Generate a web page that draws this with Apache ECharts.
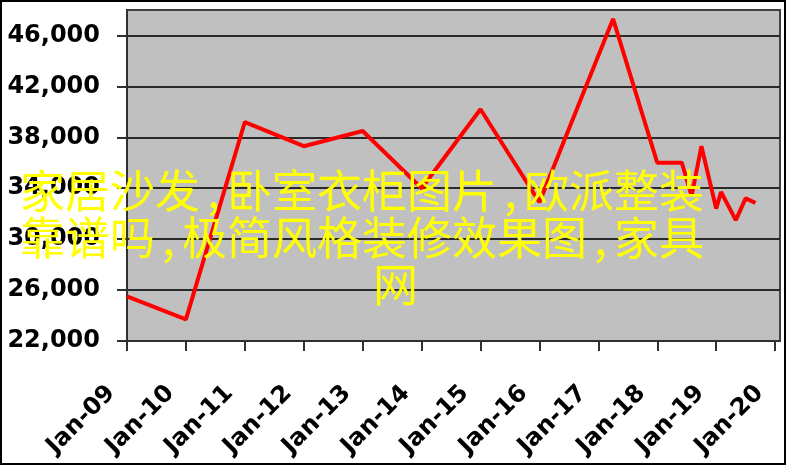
<!DOCTYPE html>
<html>
<head>
<meta charset="utf-8">
<script src="https://cdn.jsdelivr.net/npm/echarts@6/dist/echarts.min.js"></script>
<style>
html,body{margin:0;padding:0;background:#fff;}
#chart{width:788px;height:467px;}
</style>
</head>
<body>
<div id="chart"></div>
<script>
// ---- data ----
var dates = ['2009-01','2010-01','2011-01','2012-01','2013-01','2014-01','2015-01','2016-01',
             '2017-04','2018-01','2018-06','2018-08','2018-10','2019-01','2019-02','2019-05','2019-07','2019-09'];
var values = [25500,23700,39200,37300,38500,34000,40200,32900,
              47300,36000,36000,33400,37300,32400,33700,31500,33200,32850];
var xTickLabels = ['Jan-09','Jan-10','Jan-11','Jan-12','Jan-13','Jan-14','Jan-15','Jan-16','Jan-17','Jan-18','Jan-19','Jan-20'];
var yTickValues = [22000,26000,30000,34000,38000,42000,46000];
var overlayLines = ['家居沙发{c|,}卧室衣柜图片{c|,}欧派整装', '靠谱吗{c|,}极简风格装修效果图{c|,}家具', '网'];

// months since Jan-2009
function monthIndex(s){ var p = s.split('-'); return (parseInt(p[0],10)-2009)*12 + (parseInt(p[1],10)-1); }
var seriesData = dates.map(function(d,i){ return [monthIndex(d), values[i]]; });
var xTickValues = xTickLabels.map(function(_,i){ return i*12; });
function fmtThousands(v){ return String(v).replace(/\B(?=(\d{3})+(?!\d))/g, ','); }

var chart = echarts.init(document.getElementById('chart'), null, {renderer:'canvas'});
var richComma = { c: { width: 27, align: 'center', fontSize: 45, fontFamily: 'Noto Sans CJK SC', fill: '#FFFF00' } };
chart.setOption({
  animation: false,
  backgroundColor: '#ffffff',
  grid: {
    left: 127, right: 8, top: 10, bottom: 126,
    show: true, backgroundColor: '#C0C0C0', borderColor: '#404040', borderWidth: 2
  },
  xAxis: {
    type: 'value', min: 0, max: 133, interval: 12,
    axisLine: { show: true, onZero: false, lineStyle: { color: '#303030', width: 2 } },
    axisTick: { show: true, length: 10, customValues: xTickValues, lineStyle: { color: '#303030', width: 2 } },
    splitLine: { show: false },
    axisLabel: {
      customValues: xTickValues,
      rotate: 45, margin: 33, padding: [0, 22, 0, 0],
      fontFamily: 'DejaVu Sans', fontWeight: 'bold', fontSize: 24, color: '#000',
      formatter: function(v){ return xTickLabels[Math.round(v/12)]; }
    }
  },
  yAxis: {
    type: 'value', min: 22000, max: 48000, interval: 4000,
    axisLine: { show: true, onZero: false, lineStyle: { color: '#303030', width: 2 } },
    axisTick: { show: true, length: 10, customValues: yTickValues, lineStyle: { color: '#303030', width: 2 } },
    splitLine: { show: true, lineStyle: { color: '#2a2a2a', width: 2 } },
    axisLabel: {
      customValues: yTickValues,
      margin: 27,
      fontFamily: 'DejaVu Sans', fontWeight: 'bold', fontSize: 24, color: '#000',
      formatter: function(v){ return fmtThousands(v); }
    }
  },
  series: [{
    type: 'line', data: seriesData, showSymbol: false, symbol: 'none',
    lineStyle: { color: '#FF0000', width: 4 }, z: 5
  }],
  graphic: [
    { type: 'rect', shape: { x: 1, y: 1, width: 784, height: 463 }, style: { fill: 'none', stroke: '#000', lineWidth: 2 }, z: 100, silent: true },
    { type: 'text', x: 20, y: 191, z: 200, style: { text: overlayLines[0], rich: richComma, fill: '#FFFF00', fontSize: 45, fontFamily: 'Noto Sans CJK SC', textVerticalAlign: 'middle', textAlign: 'left' } },
    { type: 'text', x: 20, y: 238, z: 200, style: { text: overlayLines[1], rich: richComma, fill: '#FFFF00', fontSize: 45, fontFamily: 'Noto Sans CJK SC', textVerticalAlign: 'middle', textAlign: 'left' } },
    { type: 'text', x: 373, y: 285, z: 200, style: { text: overlayLines[2], rich: richComma, fill: '#FFFF00', fontSize: 45, fontFamily: 'Noto Sans CJK SC', textVerticalAlign: 'middle', textAlign: 'left' } }
  ]
});
</script>
</body>
</html>
